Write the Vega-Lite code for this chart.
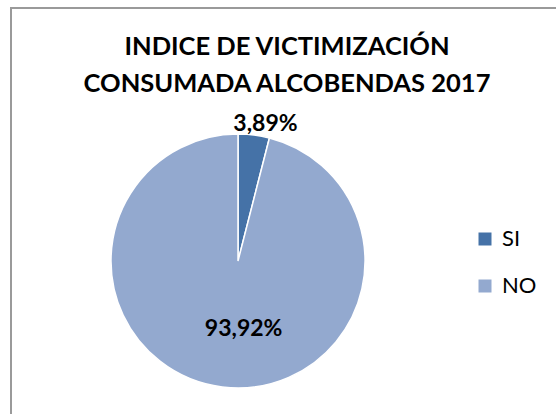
{
  "$schema": "https://vega.github.io/schema/vega-lite/v6.json",
  "autosize": "none",
  "padding": {"left": 11, "top": 8, "right": 0, "bottom": 0},
  "width": 560,
  "height": 420,
  "background": "white",
  "view": {"stroke": "#9a9a9a", "strokeWidth": 2, "fill": "white"},
  "title": {
    "text": ["INDICE DE VICTIMIZACIÓN", "CONSUMADA ALCOBENDAS 2017"],
    "orient": "top",
    "anchor": "start",
    "align": "center",
    "frame": "group",
    "baseline": "top",
    "offset": 0,
    "dx": 276,
    "dy": 89,
    "font": "Lato",
    "fontSize": 25.5,
    "fontWeight": "bold",
    "lineHeight": 37,
    "color": "#000000"
  },
  "data": {
    "values": [
      {"cat": "SI", "value": 0.0389},
      {"cat": "NO", "value": 0.9392}
    ]
  },
  "layer": [
    {
      "mark": {"type": "arc", "x": 227, "y": 253, "outerRadius": 127, "stroke": "white", "strokeWidth": 1.5},
      "encoding": {
        "theta": {"field": "value", "type": "quantitative", "stack": true},
        "order": {"field": "value", "sort": "ascending"},
        "color": {
          "field": "cat",
          "type": "nominal",
          "sort": ["SI", "NO"],
          "scale": {"domain": ["SI", "NO"], "range": ["#4572A7", "#93A9CF"]},
          "legend": {
            "title": null,
            "orient": "none",
            "legendX": 463,
            "legendY": 220,
            "padding": 0,
            "symbolType": "square",
            "symbolSize": 169,
            "symbolStrokeWidth": 0,
            "labelFont": "Lato",
            "labelFontSize": 22,
            "labelColor": "#000000",
            "labelOffset": 6,
            "rowPadding": 25
          }
        }
      }
    },
    {
      "mark": {"type": "text", "x": 227, "y": 253, "radius": 140, "font": "Lato", "fontSize": 23, "fontWeight": "bold", "color": "#000000", "baseline": "middle", "align": "center", "dx": 10, "dy": 2},
      "encoding": {
        "theta": {"field": "value", "type": "quantitative", "stack": true},
        "order": {"field": "value", "sort": "ascending"},
        "detail": {"field": "cat"},
        "text": {"condition": {"test": "datum.cat === 'SI'", "field": "value", "type": "quantitative", "format": ".2%"}, "value": ""}
      }
    },
    {
      "mark": {"type": "text", "x": 227, "y": 253, "radius": 67, "dx": 14, "dy": 2, "font": "Lato", "fontSize": 23, "fontWeight": "bold", "color": "#000000", "baseline": "middle", "align": "center"},
      "encoding": {
        "theta": {"field": "value", "type": "quantitative", "stack": true},
        "order": {"field": "value", "sort": "ascending"},
        "detail": {"field": "cat"},
        "text": {"condition": {"test": "datum.cat === 'NO'", "field": "value", "type": "quantitative", "format": ".2%"}, "value": ""}
      }
    }
  ],
  "config": {
    "locale": {"number": {"decimal": ",", "thousands": ".", "grouping": [3], "currency": ["", " €"]}},
    "view": {"stroke": "#9a9a9a", "strokeWidth": 2}
  }
}
